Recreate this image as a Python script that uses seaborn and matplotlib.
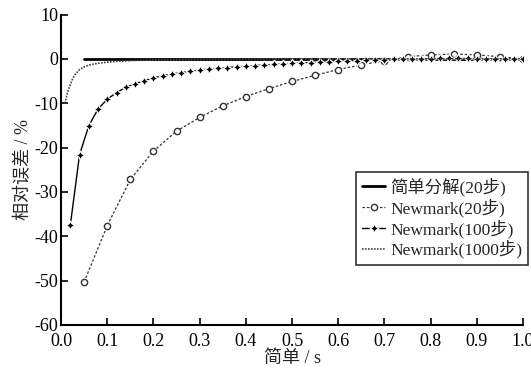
import numpy as np
import pandas as pd
import seaborn as sns
import matplotlib.pyplot as plt

# --- data ---
t_split = [0.05, 0.10, 0.15, 0.20, 0.25, 0.30, 0.35, 0.40, 0.45, 0.50,
           0.55, 0.60, 0.65, 0.70, 0.75, 0.80, 0.85, 0.90, 0.95, 1.00]
err_split = [0.0] * 20

t_nm20 = t_split
err_nm20 = [-50.3, -37.6, -27.2, -20.8, -16.3, -13.2, -10.6, -8.5, -6.7, -5.1,
            -3.7, -2.4, -1.35, -0.4, 0.5, 0.9, 1.1, 0.9, 0.5, 0.0]

t_nm100 = [0.02, 0.04, 0.06, 0.08, 0.10, 0.12, 0.14, 0.16, 0.18, 0.20,
           0.22, 0.24, 0.26, 0.28, 0.30, 0.32, 0.34, 0.36, 0.38, 0.40,
           0.42, 0.44, 0.46, 0.48, 0.50, 0.52, 0.54, 0.56, 0.58, 0.60,
           0.62, 0.64, 0.66, 0.68, 0.70, 0.72, 0.74, 0.76, 0.78, 0.80,
           0.82, 0.84, 0.86, 0.88, 0.90, 0.92, 0.94, 0.96, 0.98, 1.00]
err_nm100 = [-37.5, -21.6, -15.1, -11.3, -9.1, -7.6, -6.4, -5.6, -4.9, -4.3,
             -3.8, -3.4, -3.1, -2.8, -2.5, -2.3, -2.1, -1.95, -1.8, -1.65,
             -1.5, -1.38, -1.25, -1.13, -1.02, -0.92, -0.82, -0.72, -0.63, -0.55,
             -0.47, -0.39, -0.31, -0.24, -0.17, -0.1, -0.04, 0.0, 0.04, 0.07,
             0.09, 0.1, 0.1, 0.09, 0.08, 0.06, 0.04, 0.02, 0.01, 0.0]

t_nm1000 = [0.008, 0.010, 0.012, 0.016, 0.020, 0.025, 0.030, 0.040, 0.050, 0.060,
            0.080, 0.100, 0.130, 0.160, 0.200, 0.300, 0.400, 0.500, 0.700, 1.000]
err_nm1000 = [-10.0, -9.3, -8.4, -6.9, -5.8, -4.5, -3.6, -2.4, -1.8, -1.4,
              -1.0, -0.75, -0.5, -0.35, -0.25, -0.12, -0.06, -0.03, 0.0, 0.0]

x_ticks = [0.0, 0.1, 0.2, 0.3, 0.4, 0.5, 0.6, 0.7, 0.8, 0.9, 1.0]
y_ticks = [10, 0, -10, -20, -30, -40, -50, -60]

sns.set_style('ticks')
plt.rcParams['font.family'] = ['Liberation Serif', 'Noto Sans CJK SC']
plt.rcParams['axes.unicode_minus'] = False
plt.rcParams['xtick.direction'] = 'in'
plt.rcParams['ytick.direction'] = 'in'

fig = plt.figure(figsize=(5.31, 3.73), dpi=100)
ax = fig.add_axes([0.115, 0.129, 0.870, 0.832])

sns.lineplot(x=t_split, y=err_split, ax=ax, color='black', lw=2.0,
             label='简单分解(20步)', sort=False, estimator=None)
sns.lineplot(x=t_nm20, y=err_nm20, ax=ax, color='#333333', lw=0.9,
             linestyle=(0, (2, 1.5)), marker='o', markersize=4.5,
             markerfacecolor='white', markeredgecolor='#333333', markeredgewidth=1.0,
             label='Newmark(20步)', sort=False, estimator=None)
sns.lineplot(x=t_nm100, y=err_nm100, ax=ax, color='black', lw=1.0,
             marker=(4, 1, 0), markersize=6.5, markeredgewidth=0.9,
             label='Newmark(100步)', sort=False, estimator=None)
sns.lineplot(x=t_nm1000, y=err_nm1000, ax=ax, color='#444444', lw=1.2,
             linestyle=(0, (1, 0.8)),
             label='Newmark(1000步)', sort=False, estimator=None)

ax.set_xlim(0, 1.0)
ax.set_ylim(-60, 10)
ax.set_xticks(x_ticks)
ax.set_xticklabels(['%.1f' % v for v in x_ticks])
ax.set_yticks(y_ticks)
ax.set_yticklabels([str(v) for v in y_ticks])
ax.tick_params(labelsize=13, length=5, width=1.2, colors='black')
ax.tick_params(axis='x', pad=5.5)
ax.tick_params(axis='y', pad=2)
for s in ['left', 'bottom']:
    ax.spines[s].set_linewidth(1.5)
    ax.spines[s].set_color('black')
sns.despine(ax=ax)

ax.set_xlabel('简单 / s', fontsize=13, labelpad=0)
ax.set_ylabel('相对误差 / %', fontsize=13, labelpad=2)

leg = ax.legend(loc='upper right', bbox_to_anchor=(0.995, 0.54),
                bbox_transform=fig.transFigure, fontsize=12.5,
                frameon=True, fancybox=False, edgecolor='black',
                handlelength=1.3, handletextpad=0.3, borderpad=0.35,
                labelspacing=0.13, borderaxespad=0)
leg.get_frame().set_linewidth(1.2)

plt.savefig('out.png', dpi=100)
plt.close()
